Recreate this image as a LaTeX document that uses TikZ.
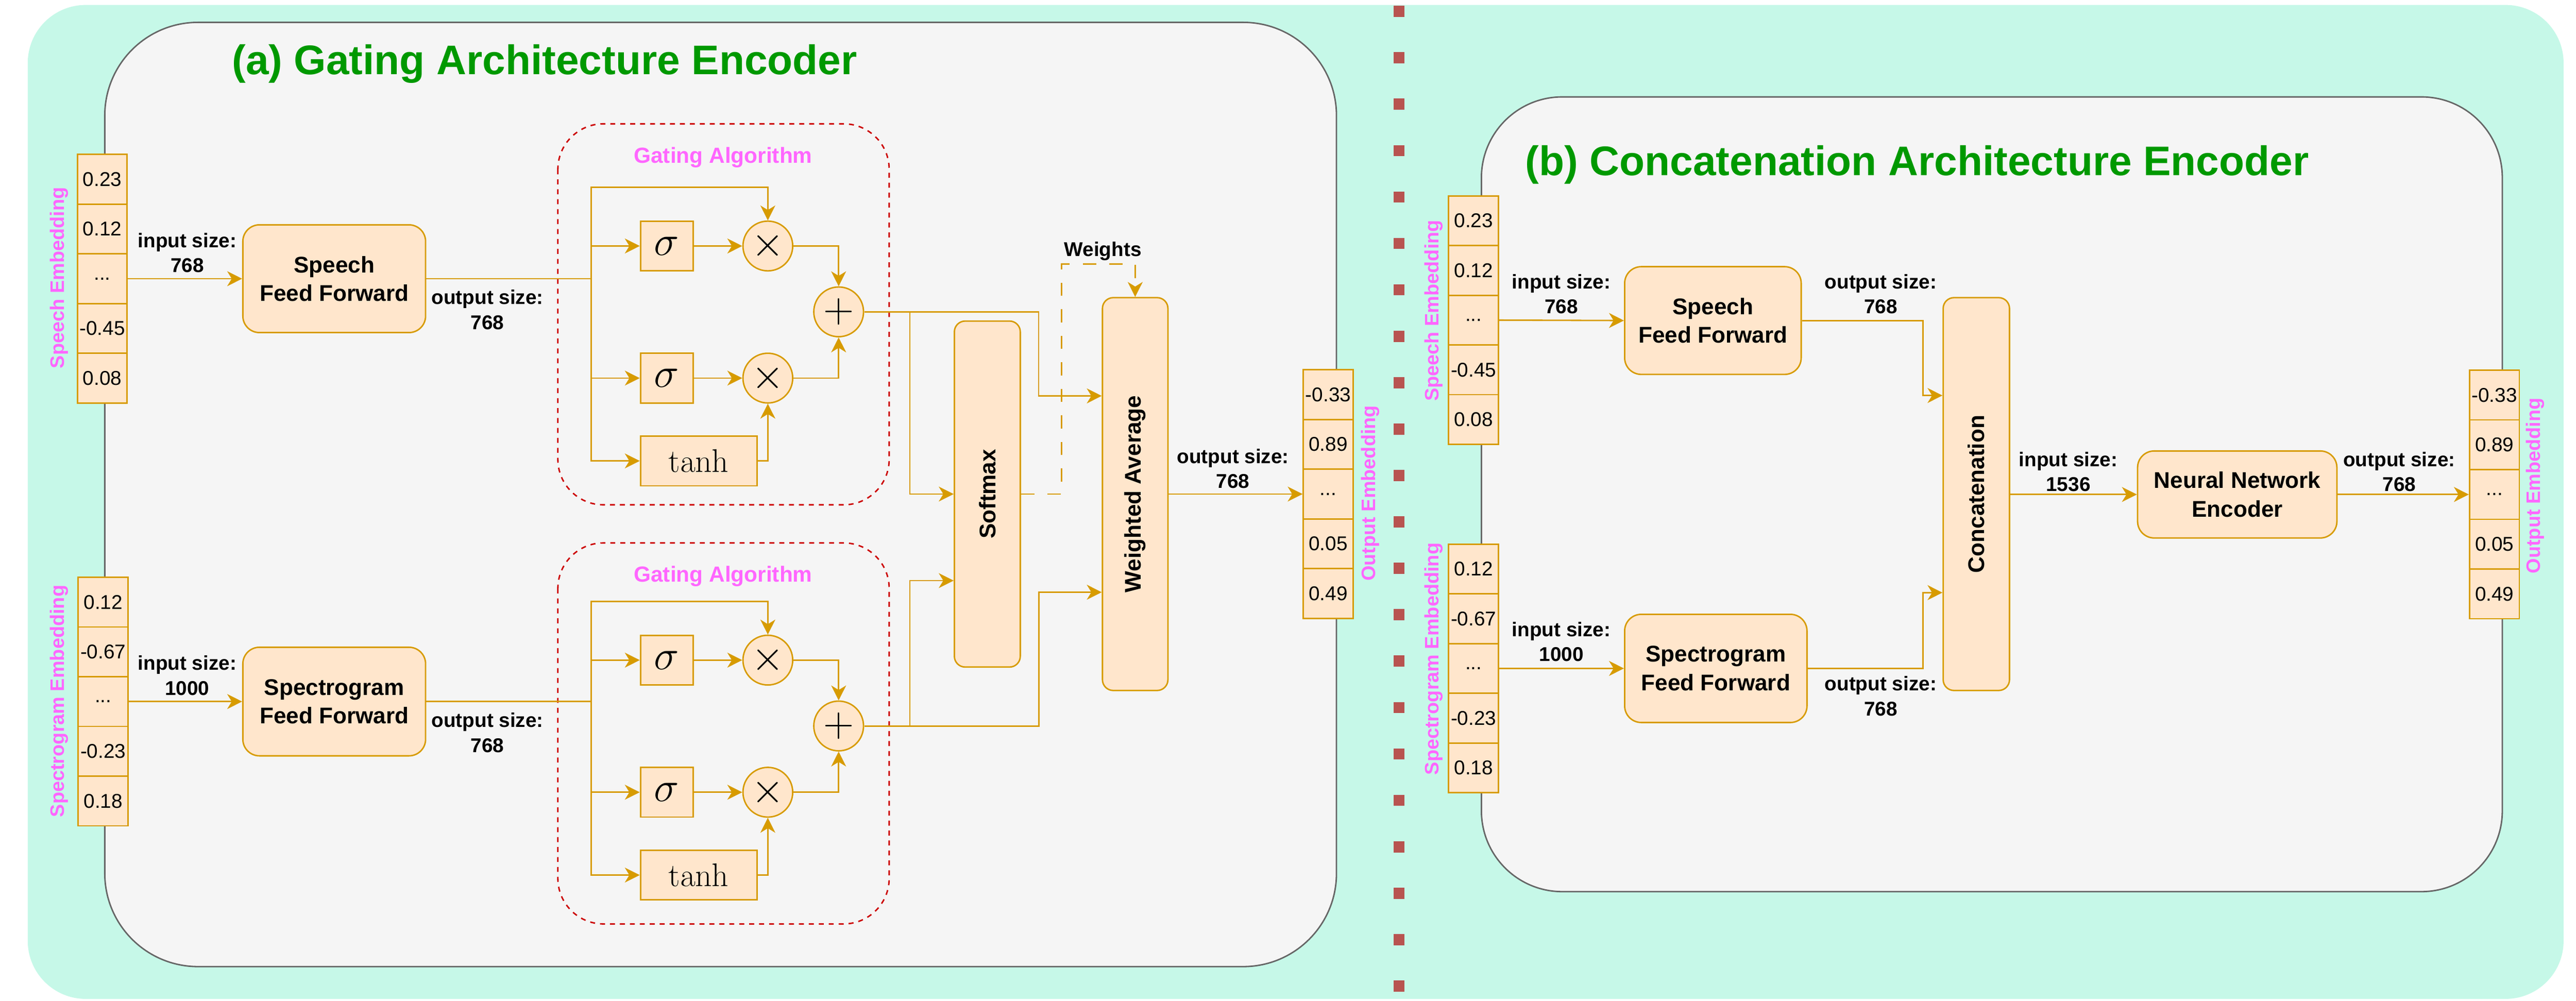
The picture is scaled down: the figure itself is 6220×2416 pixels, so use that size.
\RequirePackage{fix-cm}
\documentclass[tikz,border=0pt]{standalone}
\usepackage[no-math]{fontspec}
\usepackage{graphicx}
\newfontfamily\arial{Liberation Sans}
\usetikzlibrary{arrows.meta,positioning}

\definecolor{mint}{HTML}{C6F8E8}
\definecolor{panelfill}{HTML}{F5F5F5}
\definecolor{panelline}{HTML}{666666}
\definecolor{boxfill}{HTML}{FFE6CC}
\definecolor{boxline}{HTML}{D79B00}
\definecolor{gatered}{HTML}{CC0000}
\definecolor{titlegreen}{HTML}{009900}
\definecolor{embpink}{HTML}{FF66FF}
\definecolor{divred}{HTML}{B85450}

\newcommand{\dotsval}{...}
% one embedding vector: name, x, top, values
\newcommand{\embvec}[4]{%
  \foreach \v [count=\i] in {#4}
    \node[vcell] (#1\i) at (#2,#3+\i*120-60) {\v};}

\begin{document}
\begin{tikzpicture}[x=0.01cm,y=-0.01cm,
  ff/.style={draw=boxline,fill=boxfill,line width=0.035cm,rounded corners=0.4cm,align=center,inner sep=0pt,font=\arial\bfseries\fontsize{15.6}{19.6}\selectfont},
  tall/.style={ff,rounded corners=0.26cm,minimum width=1.59cm},
  vcell/.style={draw=boxline,fill=boxfill,line width=0.035cm,minimum width=1.2cm,minimum height=1.2cm,inner sep=0pt,font=\arial\fontsize{13.7}{16}\selectfont},
  gate/.style={draw=boxline,fill=boxfill,line width=0.035cm,minimum height=1.2cm,inner sep=0pt,font=\fontsize{29}{34}\selectfont},
  op/.style={gate,circle,minimum size=1.2cm},
  sizelbl/.style={align=center,inner sep=0pt,font=\arial\bfseries\fontsize{13.7}{17.1}\selectfont},
  gatelbl/.style={inner sep=0pt,text=embpink,font=\arial\bfseries\fontsize{15}{18}\selectfont},
  emb/.style={rotate=90,inner sep=0pt,text=embpink,font=\arial\bfseries\fontsize{13.4}{16}\selectfont},
  ttl/.style={inner sep=0pt,text=titlegreen,font=\arial\bfseries\fontsize{28.4}{34}\selectfont},
  conn/.style={draw=boxline,line width=0.035cm,-{Stealth[length=0.36cm,width=0.36cm,inset=0.11cm]}},
  wconn/.style={conn,dash pattern=on 0.32cm off 0.32cm},
  gatebox/.style={draw=gatered,line width=0.035cm,dash pattern=on 0.12cm off 0.12cm,rounded corners=1.1cm},
  panel/.style={fill=panelfill,draw=panelline,line width=0.035cm}]

  \fill[white] (0,0) rectangle (6220,2416);
  \useasboundingbox (0,0) rectangle (6220,2416);
  \fill[mint,rounded corners=1.4cm] (67,12) rectangle (6190,2412);
  \draw[panel,rounded corners=2.25cm] (253,54) rectangle (3227,2334); %panel a
  \draw[panel,rounded corners=1.95cm] (3577,234) rectangle (6042,2153); %panel b
  \draw[divred,line width=0.27cm,dash pattern=on 0.27cm off 0.85cm] (3378,14) -- (3378,2416);

  \node[ttl] (ta) at (1315,154) {(a) Gating Architecture Encoder};
  \node[ttl] (tb) at (4629,398) {(b) Concatenation Architecture Encoder};

%  (a) gating encoder
  \embvec{sa}{247}{373}{0.23,0.12,\dotsval,-0.45,0.08}
  \embvec{pa}{249}{1394}{0.12,-0.67,\dotsval,-0.23,0.18}
  \embvec{oa}{3207}{893}{-0.33,0.89,\dotsval,0.05,0.49}
  \node[emb] (sal) at (143,671) {Speech Embedding};
  \node[emb] (pal) at (143,1693) {Spectrogram Embedding};
  \node[emb] (oal) at (3309,1191) {Output Embedding};

  \node[ff,minimum width=4.41cm,minimum height=2.6cm] (sfa) at (807,673) {Speech\\Feed Forward};
  \node[ff,minimum width=4.41cm,minimum height=2.62cm] (pfa) at (807,1694) {Spectrogram\\Feed Forward};
  \node[sizelbl] (isa) at (452,610) {input size:\\768};
  \node[sizelbl] (osa) at (1177,748) {output size:\\768};
  \node[sizelbl] (ipa) at (452,1631) {input size:\\1000};
  \node[sizelbl] (opa) at (1177,1769) {output size:\\768};
  \draw[conn] (sa3.east) -- (sfa.west);
  \draw[conn] (pa3.east) -- (pfa.west);

  \foreach \k/\dy/\db/\src in {1/0/0/sfa,2/1000/1012/pfa}{
    \draw[gatebox] (1347,299+\db) rectangle (2147,1219+\db);
    \node[gatelbl] (gl\k) at (1746,380+\db) {Gating Algorithm};
    \node[gate,minimum width=1.27cm] (gsu\k) at (1610,594+\dy) {$\sigma$};
    \node[gate,minimum width=1.27cm] (gsl\k) at (1610,913+\dy) {$\sigma$};
    \node[gate,minimum width=2.81cm,font=\fontsize{22.5}{27}\selectfont] (gt\k) at (1687,1113+\dy) {$\tanh$};
    \node[op] (gmu\k) at (1854,594+\dy) {$\times$};
    \node[op] (gml\k) at (1854,913+\dy) {$\times$};
    \node[op] (gp\k) at (2025,753+\dy) {$+$};
    \coordinate (br\k) at (1427,0 |- \src.east);
    \draw[conn] (\src.east) -- (br\k) |- (gsu\k.west);
    \draw[conn] (br\k) |- (gsl\k.west);
    \draw[conn] (br\k) |- (gt\k.west);
    \draw[conn] (br\k) |- ([yshift=0.8cm]gmu\k.north) -- (gmu\k.north);
    \draw[conn] (gsu\k) -- (gmu\k);
    \draw[conn] (gsl\k) -- (gml\k);
    \draw[conn] (gmu\k.east) -| (gp\k.north);
    \draw[conn] (gml\k.east) -| (gp\k.south);
    \draw[conn] (gt\k.east) -| (gml\k.south);
  }

  \node[tall,minimum height=8.35cm] (sm) at (2384,1193) {\rotatebox{90}{Softmax}};
  \node[tall,minimum width=1.58cm,minimum height=9.48cm] (wa) at (2741,1193) {\rotatebox{90}{Weighted Average}};
  \coordinate (smin2) at (sm.west |- 0,1402);
  \coordinate (wain1) at (wa.west |- 0,956);
  \coordinate (wain2) at (wa.west |- 0,1430);
  \draw[conn] (gp1.east) -- ++(110,0) |- (sm.west);
  \draw[conn] (gp1.east) -- ++(421,0) |- (wain1);
  \draw[conn] (gp2.east) -- ++(110,0) |- (smin2);
  \draw[conn] (gp2.east) -- ++(422,0) |- (wain2);
  \draw[wconn] (sm.east) -- ++(98,0) -- ++(0,-555) -| (wa.north);
  \node[sizelbl] (wt) at (2663,607) {Weights};
  \draw[conn] (wa.east) -- (oa3.west);
  \node[sizelbl] (oaa) at (2977,1132) {output size:\\768};

%  (b) concatenation encoder
  \embvec{sb}{3558}{473}{0.23,0.12,\dotsval,-0.45,0.08}
  \embvec{pb}{3558}{1314}{0.12,-0.67,\dotsval,-0.23,0.18}
  \embvec{ob}{6023}{894}{-0.33,0.89,\dotsval,0.05,0.49}
  \node[emb] (sbl) at (3462,750) {Speech Embedding};
  \node[emb] (pbl) at (3462,1591) {Spectrogram Embedding};
  \node[emb] (obl) at (6122,1173) {Output Embedding};

  \node[ff,minimum width=4.26cm,minimum height=2.6cm] (sfb) at (4136,774) {Speech\\Feed Forward};
  \node[ff,minimum width=4.4cm,minimum height=2.61cm] (pfb) at (4143,1614) {Spectrogram\\Feed Forward};
  \node[tall,minimum width=1.6cm,minimum height=9.48cm] (cat) at (4772,1193) {\rotatebox{90}{Concatenation}};
  \node[ff,minimum width=4.81cm,minimum height=2.1cm] (nn) at (5402,1194) {Neural Network\\Encoder};
  \node[sizelbl] (isb) at (3770,710) {input size:\\768};
  \node[sizelbl] (osb) at (4541,710) {output size:\\768};
  \node[sizelbl] (ipb) at (3770,1550) {input size:\\1000};
  \node[sizelbl] (opb) at (4541,1681) {output size:\\768};
  \node[sizelbl] (icb) at (4994,1139) {input size:\\1536};
  \node[sizelbl] (onb) at (5793,1139) {output size:\\768};

  \coordinate (catin1) at (cat.west |- 0,955);
  \coordinate (catin2) at (cat.west |- 0,1431);
  \draw[conn] (sb3.east) -- (sfb.west);
  \draw[conn] (pb3.east) -- (pfb.west);
  \draw[conn] (sfb.east) -- ++(292,0) |- (catin1);
  \draw[conn] (pfb.east) -- ++(278,0) |- (catin2);
  \draw[conn] (cat.east |- nn.west) -- (nn.west);
  \draw[conn] (nn.east) -- (ob3.west);
\end{tikzpicture}
\end{document}
